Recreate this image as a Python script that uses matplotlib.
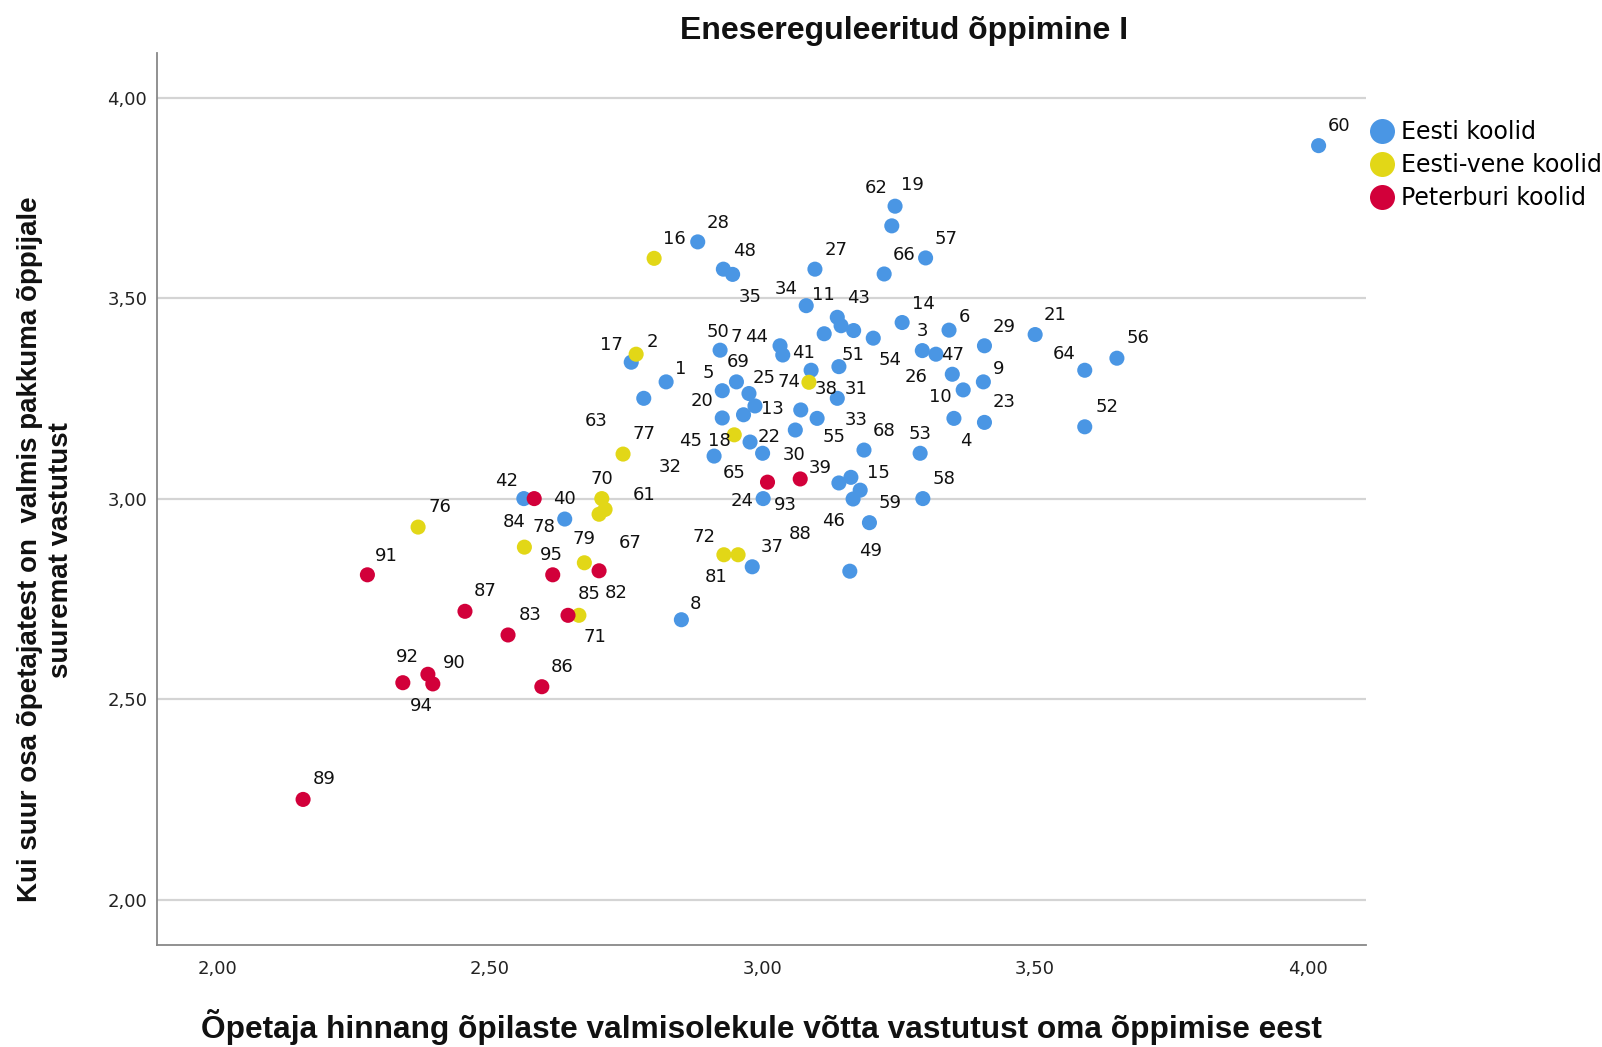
import matplotlib
matplotlib.use('Agg')
import matplotlib.pyplot as plt
from matplotlib.lines import Line2D

plt.rcParams['font.family'] = ['Liberation Sans', 'DejaVu Sans']

# --- data: x = teacher rating, y = share of teachers ready to give more responsibility
# Eesti koolid ('' = point without a visible label)
eesti_x = [2.881, 2.928, 2.945, 3.096, 3.243, 3.237, 3.223, 3.299, 3.080, 3.137,
           3.144, 3.167, 3.113, 3.203, 3.256, 3.342, 3.293, 3.318, 3.348, 3.368,
           3.351, 3.407, 3.500, 3.650, 3.591, 3.405, 3.407, 3.591, 4.020, 2.759,
           2.823, 2.782, 2.922, 3.032, 3.037, 3.089, 3.140, 2.952, 2.926, 2.975,
           2.986, 2.965, 2.926, 3.070, 3.100, 3.137, 3.060, 2.977, 3.186, 3.289,
           2.911, 3.000, 3.140, 3.162, 3.179, 3.166, 3.001, 3.294, 3.196, 3.160,
           2.981, 2.851, 2.637, 2.562]
eesti_y = [3.640, 3.572, 3.559, 3.572, 3.729, 3.680, 3.560, 3.600, 3.481, 3.452,
           3.431, 3.419, 3.411, 3.400, 3.439, 3.420, 3.369, 3.360, 3.310, 3.271,
           3.200, 3.381, 3.409, 3.350, 3.320, 3.291, 3.190, 3.179, 3.880, 3.340,
           3.291, 3.250, 3.370, 3.381, 3.358, 3.320, 3.329, 3.291, 3.269, 3.262,
           3.231, 3.209, 3.201, 3.221, 3.200, 3.250, 3.171, 3.141, 3.121, 3.113,
           3.106, 3.113, 3.039, 3.053, 3.021, 2.999, 3.000, 3.000, 2.940, 2.819,
           2.830, 2.698, 2.949, 3.000]
eesti_id = ['28', '48', '35', '27', '19', '62', '66', '57', '34', '43',
            '11', '51', '', '54', '14', '6', '3', '26', '47', '10',
            '4', '29', '21', '56', '64', '9', '23', '52', '60', '17',
            '1', '63', '50', '44', '7', '41', '31', '69', '5', '25',
            '13', '45', '20', '38', '55', '33', '30', '22', '68', '53',
            '32', '65', '39', '15', '', '46', '24', '58', '59', '49',
            '37', '8', '40', '42']

# Eesti-vene koolid
vene_x = [2.801, 2.768, 3.085, 2.948, 2.744, 2.705, 2.711, 2.700, 2.673, 2.663,
          2.929, 2.955, 2.368, 2.563]
vene_y = [3.599, 3.360, 3.290, 3.159, 3.111, 3.000, 2.973, 2.961, 2.840, 2.709,
          2.860, 2.860, 2.929, 2.879]
vene_id = ['16', '2', '74', '18', '77', '70', '61', '67', '79', '71',
           '72', '81', '76', '84']

# Peterburi koolid
peter_x = [3.009, 3.069, 2.581, 2.700, 2.643, 2.275, 2.615, 2.454, 2.533, 2.340,
           2.386, 2.395, 2.595, 2.157]
peter_y = [3.041, 3.049, 3.000, 2.820, 2.709, 2.810, 2.810, 2.719, 2.660, 2.541,
           2.562, 2.538, 2.531, 2.250]
peter_id = ['93', '88', '78', '82', '85', '91', '95', '87', '83', '92',
            '90', '94', '86', '89']

groups = ['Eesti koolid', 'Eesti-vene koolid', 'Peterburi koolid']
colors = ['#4a96e4', '#e2d717', '#d2003a']

x_ticks = [2.0, 2.5, 3.0, 3.5, 4.0]
tick_labels = ['2,00', '2,50', '3,00', '3,50', '4,00']

# label placement (pixels, right/down from the marker centre)
label_offset = {
    '28': (20.6, -20.7), '48': (21, -20), '35': (17.6, 20.7), '27': (21.3, -21),
    '19': (17, -22.7), '62': (-15.7, -39.3), '66': (20, -20.7), '57': (20.3, -20.4),
    '34': (-20.3, -18.4), '43': (21.3, -20.6), '11': (-17.7, -32.4), '51': (-1, 22.4),
    '54': (17, 20.7), '14': (21.7, -20.6), '6': (15.3, -15), '3': (0, -20.7),
    '26': (-20, 20.7), '47': (0, -21.3), '10': (-23, 5), '4': (11.7, 21),
    '29': (20, -20.7), '21': (19.7, -21), '56': (21.3, -21.6), '64': (-20.7, -18.3),
    '9': (15, -14.4), '23': (20, -21.6), '52': (22, -21), '60': (20, -21.4),
    '17': (-19.3, -19), '1': (15, -14.4), '63': (-48, 20.7), '50': (-2, -19.3),
    '44': (-23.3, -10.7), '7': (-47, -20), '41': (-7.7, -19), '31': (17, 21),
    '69': (1.6, -21), '5': (-13.7, -19.7), '25': (15.6, -17.6), '13': (17.7, 1.3),
    '45': (-53, 24.6), '20': (-20, -18.7), '38': (25, -22.3), '55': (17, 17),
    '33': (19, 20), '30': (-1, 23.3), '22': (18.7, -6.7), '68': (20, -21),
    '53': (0, -20.6), '32': (-44, 9.7), '65': (-28.7, 18.4), '39': (-18.7, -16.7),
    '15': (27.3, -5.6), '46': (-19.3, 20), '24': (-21.3, 0.6), '58': (21.3, -21.4),
    '59': (20.7, -21.7), '49': (20.3, -22), '37': (19.7, -21.7), '8': (14.4, -17),
    '40': (-0.7, -21.7), '42': (-17.7, -19.4),
    '16': (20, -21), '2': (16.7, -14), '74': (-19.7, -2.3), '18': (-15, 4.6),
    '77': (21, -21.3), '70': (0.3, -21), '61': (39, -16), '67': (30.7, 27.4),
    '79': (0, -25.4), '71': (15.7, 20), '72': (-19.7, -19.7), '81': (-22, 20.3),
    '76': (21.7, -21.3), '84': (-10.7, -27),
    '93': (18.3, 21.3), '88': (0, 53), '78': (9.7, 26.6), '82': (17, 21),
    '85': (21, -23.3), '91': (19, -20.7), '95': (-1, -21), '87': (20.7, -22),
    '83': (21.7, -21.4), '92': (5, -27), '90': (26, -13.3), '94': (-11, 20.3),
    '86': (20, -21), '89': (20.7, -22),
}

fig = plt.figure(figsize=(16.02, 10.47), dpi=100)
ax = fig.add_axes([0.098, 0.0974, 0.7547, 0.852])

for gx, gy, gid, c in [(eesti_x, eesti_y, eesti_id, colors[0]),
                       (vene_x, vene_y, vene_id, colors[1]),
                       (peter_x, peter_y, peter_id, colors[2])]:
    ax.scatter(gx, gy, s=118, color=c, edgecolors='none', zorder=3)
    for x, y, lab in zip(gx, gy, gid):
        if not lab:
            continue
        dx, dy = label_offset.get(lab, (20, -21))
        ax.annotate(lab, (x, y), xytext=(dx, -dy - 6.6), textcoords='offset pixels',
                    ha='center', va='baseline', fontsize=13, family='DejaVu Sans',
                    color='#111111', zorder=4)

ax.set_xlim(1.889, 4.107)
ax.set_ylim(1.887, 4.111)
ax.set_xticks(x_ticks)
ax.set_xticklabels(tick_labels, family='DejaVu Sans')
ax.set_yticks(x_ticks)
ax.set_yticklabels(tick_labels, family='DejaVu Sans')
ax.tick_params(length=0, labelsize=13, colors='#222222')
ax.tick_params(axis='x', pad=10.5)
ax.tick_params(axis='y', pad=7)
ax.yaxis.grid(True, color='#d4d4d4', linewidth=1.6)
ax.set_axisbelow(True)
for side in ['top', 'right']:
    ax.spines[side].set_visible(False)
for side in ['left', 'bottom']:
    ax.spines[side].set_color('#888888')
    ax.spines[side].set_linewidth(1.3)

fig.text(0.5643, 0.970, 'Enesereguleeritud õppimine I', ha='center', va='center',
         fontsize=23, fontweight='bold', color='#111111')
fig.text(0.4756, 0.019, 'Õpetaja hinnang õpilaste valmisolekule võtta vastutust oma õppimise eest',
         ha='center', va='center', fontsize=22.8, fontweight='bold', color='#111111')
fig.text(0.0285, 0.475, 'Kui suur osa õpetajatest on  valmis pakkuma õppijale\nsuuremat vastutust',
         ha='center', va='center', rotation=90, fontsize=20, fontweight='bold',
         color='#111111', linespacing=1.25, multialignment='center')

handles = [Line2D([], [], linestyle='none', marker='o', markersize=18,
                  markerfacecolor=c, markeredgecolor='none') for c in colors]
fig.legend(handles, groups, loc='upper left', bbox_to_anchor=(0.8555, 0.885),
           frameon=False, prop={'family': 'DejaVu Sans', 'size': 17},
           handlelength=1.0, handletextpad=0.3, labelspacing=0.37,
           borderpad=0, borderaxespad=0)

fig.savefig('out.png', dpi=100)
